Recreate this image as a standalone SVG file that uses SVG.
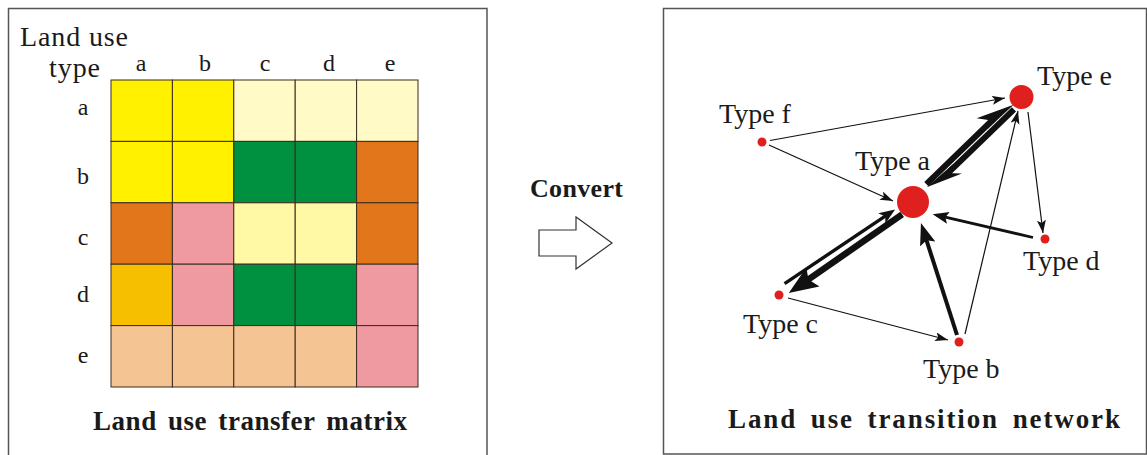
<svg xmlns="http://www.w3.org/2000/svg" width="1147" height="455" viewBox="0 0 1147 455">
<style>
.frame{fill:none;stroke:#555;stroke-width:1.5}
.cell{stroke:#3a2c20;stroke-width:1}
.lbl{font-family:"Liberation Serif","Times New Roman",serif;fill:#1a1a1a}
.title{font-family:"Liberation Serif","Times New Roman",serif;font-weight:bold;fill:#1a1a1a;font-size:27px}
.node{fill:#e0201e}
.thin{stroke:#111;stroke-width:1.2;fill:none}
.med{stroke:#111;stroke-width:2.8;fill:none}
.thick{stroke:#111;stroke-width:4;fill:none}
.head{fill:#111}
</style>
<defs>
<marker id="mThin" markerUnits="userSpaceOnUse" markerWidth="14" markerHeight="10" refX="13" refY="4.5" orient="auto"><path d="M0,0 L13,4.5 L0,9 L3,4.5 z" fill="#111"/></marker>
<marker id="mMed" markerUnits="userSpaceOnUse" markerWidth="18" markerHeight="14" refX="12" refY="6" orient="auto"><path d="M0,0 L16,6 L0,12 L3,6 z" fill="#111"/></marker>
<marker id="mBig" markerUnits="userSpaceOnUse" markerWidth="24" markerHeight="18" refX="15" refY="8" orient="auto"><path d="M0,0 L22,8 L0,16 L4,8 z" fill="#111"/></marker>
</defs>
<rect width="1147" height="455" fill="#fff"/>

<g id="matrix-panel">
<rect class="frame" x="8.5" y="8.5" width="478.5" height="460"/>
<text class="lbl" x="20" y="46" font-size="28" textLength="108" lengthAdjust="spacing">Land use</text>
<text class="lbl" x="49" y="77" font-size="28" textLength="51" lengthAdjust="spacing">type</text>
<g class="lbl" font-size="24" text-anchor="middle">
<text x="141" y="71">a</text><text x="205" y="71">b</text><text x="265" y="71">c</text><text x="329" y="71">d</text><text x="390" y="71">e</text>
<text x="83" y="115">a</text><text x="83" y="184">b</text><text x="83" y="245">c</text><text x="83" y="302">d</text><text x="83" y="363">e</text>
</g>
<g id="cells">
<rect class="cell" x="111" y="80" width="61.4" height="61.4" fill="#fff100"/>
<rect class="cell" x="172.4" y="80" width="61.4" height="61.4" fill="#fff100"/>
<rect class="cell" x="233.8" y="80" width="61.4" height="61.4" fill="#fffac6"/>
<rect class="cell" x="295.2" y="80" width="61.4" height="61.4" fill="#fffac6"/>
<rect class="cell" x="356.6" y="80" width="61.4" height="61.4" fill="#fffac6"/>
<rect class="cell" x="111" y="141.4" width="61.4" height="61.4" fill="#fff100"/>
<rect class="cell" x="172.4" y="141.4" width="61.4" height="61.4" fill="#fff100"/>
<rect class="cell" x="233.8" y="141.4" width="61.4" height="61.4" fill="#009140"/>
<rect class="cell" x="295.2" y="141.4" width="61.4" height="61.4" fill="#009140"/>
<rect class="cell" x="356.6" y="141.4" width="61.4" height="61.4" fill="#e2761b"/>
<rect class="cell" x="111" y="202.8" width="61.4" height="61.4" fill="#e2761b"/>
<rect class="cell" x="172.4" y="202.8" width="61.4" height="61.4" fill="#ee9aa0"/>
<rect class="cell" x="233.8" y="202.8" width="61.4" height="61.4" fill="#fff8a5"/>
<rect class="cell" x="295.2" y="202.8" width="61.4" height="61.4" fill="#fff8a5"/>
<rect class="cell" x="356.6" y="202.8" width="61.4" height="61.4" fill="#e2761b"/>
<rect class="cell" x="111" y="264.2" width="61.4" height="61.4" fill="#f6c000"/>
<rect class="cell" x="172.4" y="264.2" width="61.4" height="61.4" fill="#ee9aa0"/>
<rect class="cell" x="233.8" y="264.2" width="61.4" height="61.4" fill="#009140"/>
<rect class="cell" x="295.2" y="264.2" width="61.4" height="61.4" fill="#009140"/>
<rect class="cell" x="356.6" y="264.2" width="61.4" height="61.4" fill="#ee9aa0"/>
<rect class="cell" x="111" y="325.6" width="61.4" height="61.4" fill="#f5c493"/>
<rect class="cell" x="172.4" y="325.6" width="61.4" height="61.4" fill="#f5c493"/>
<rect class="cell" x="233.8" y="325.6" width="61.4" height="61.4" fill="#f5c493"/>
<rect class="cell" x="295.2" y="325.6" width="61.4" height="61.4" fill="#f5c493"/>
<rect class="cell" x="356.6" y="325.6" width="61.4" height="61.4" fill="#ee9aa0"/>
</g>
<text class="title" x="93" y="430" textLength="314" lengthAdjust="spacing" word-spacing="4">Land use transfer matrix</text>
</g>

<g id="convert">
<text class="title" x="530" y="197" style="font-size:26px" textLength="93" lengthAdjust="spacing">Convert</text>
<polygon points="539,230 576,230 576,217 612,243 576,269 576,256 539,256" fill="#fff" stroke="#333" stroke-width="1.2"/>
</g>

<g id="network-panel">
<rect class="frame" x="663.5" y="8.5" width="483" height="445.5"/>
<text class="title" x="728" y="428" textLength="392" lengthAdjust="spacing" word-spacing="5">Land use transition network</text>
</g>

<g id="connectors">
<line class="thin" x1="770" y1="140.5" x2="1005" y2="98" marker-end="url(#mThin)"/>
<line class="thin" x1="769" y1="145" x2="893" y2="201" marker-end="url(#mThin)"/>
<line class="thin" x1="1028" y1="112" x2="1043" y2="233" marker-end="url(#mThin)"/>
<line class="thin" x1="965" y1="334" x2="1018" y2="111" marker-end="url(#mThin)"/>
<line class="thin" x1="788" y1="298" x2="948" y2="340" marker-end="url(#mThin)"/>
<line class="med" x1="1033" y1="237.5" x2="936.6" y2="215.1" marker-end="url(#mMed)"/>
<line class="thick" x1="957" y1="335" x2="923.1" y2="229.7" marker-end="url(#mBig)"/>
<g id="edge-a-e" transform="translate(913,202) rotate(-44.06)">
<line stroke="#111" stroke-width="6" x1="22" y1="-3.6" x2="116" y2="-3.6"/>
<polygon class="head" points="140,0 104,-16 111,-6.6 104,-0.6"/>
<line stroke="#111" stroke-width="6" x1="137" y1="3.6" x2="48" y2="3.6"/>
<polygon class="head" points="20,-1 55,13.5 48,6.6 55,0.6"/>
</g>
<g id="edge-a-c" transform="translate(913,202) rotate(145.24)">
<line stroke="#111" stroke-width="6.5" x1="16" y1="-4" x2="133" y2="-4"/>
<polygon class="head" points="154,-4 125,-16 130,-4 125,7"/>
<line stroke="#111" stroke-width="3.4" x1="152" y1="6.2" x2="30" y2="4.2"/>
<polygon class="head" points="19,4 35,-2 31,4 35,10.5"/>
</g>
</g>

<g id="node-a"><circle class="node" cx="913" cy="202" r="16"/><text class="lbl" x="855" y="170" font-size="28">Type a</text></g>
<g id="node-e"><circle class="node" cx="1021.5" cy="97" r="12"/><text class="lbl" x="1037" y="85" font-size="28">Type e</text></g>
<g id="node-f"><circle class="node" cx="762" cy="142" r="4.5"/><text class="lbl" x="719" y="123" font-size="28">Type f</text></g>
<g id="node-d"><circle class="node" cx="1045" cy="239" r="4.5"/><text class="lbl" x="1023" y="270" font-size="28">Type d</text></g>
<g id="node-c"><circle class="node" cx="779" cy="295" r="4.5"/><text class="lbl" x="743" y="333" font-size="28">Type c</text></g>
<g id="node-b"><circle class="node" cx="959" cy="342" r="4.5"/><text class="lbl" x="923" y="378" font-size="28">Type b</text></g>
</svg>
